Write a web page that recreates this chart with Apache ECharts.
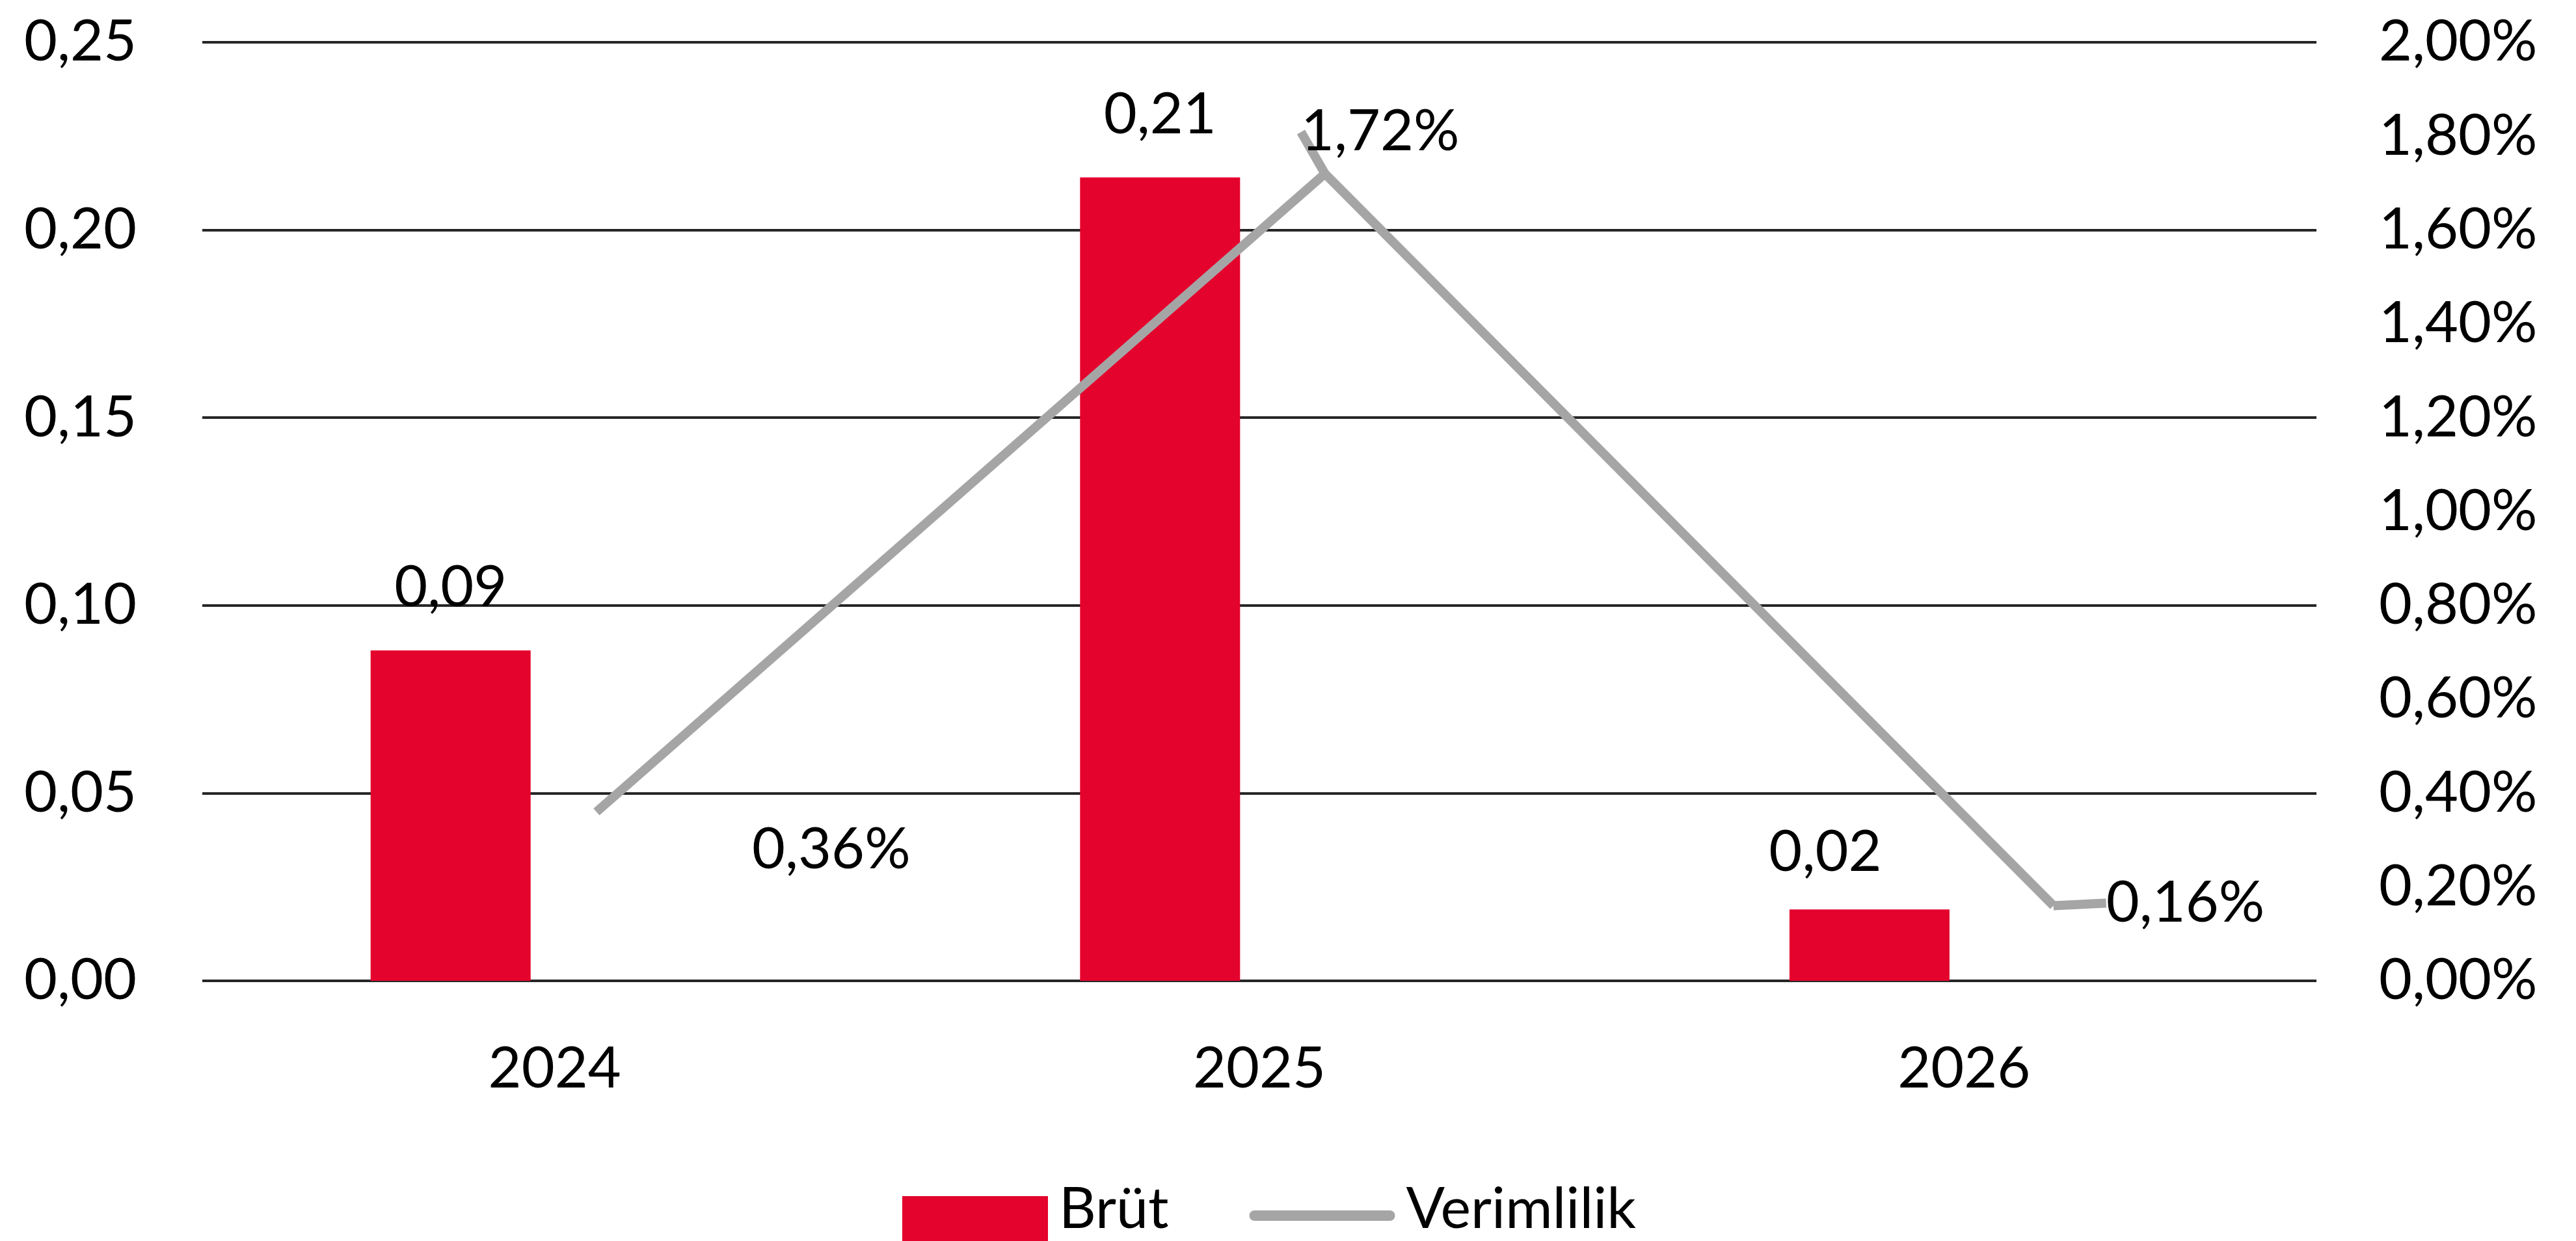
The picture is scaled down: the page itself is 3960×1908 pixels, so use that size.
<!DOCTYPE html>
<html>
<head>
<meta charset="utf-8">
<script src="https://cdn.jsdelivr.net/npm/echarts@6/dist/echarts.min.js"></script>
<style>
  html, body { margin: 0; padding: 0; background: #fff; }
  #chart { width: 3960px; height: 1908px; }
</style>
</head>
<body>
<div id="chart"></div>
<script>
// data
const years = ['2024', '2025', '2026'];
const brut = [0.088, 0.214, 0.019];
const verimlilik = [0.36, 1.72, 0.16]; // in %

// label nudges (px) so the labels sit where the original put them
const lineLabelPos = ['top', 'top', 'right'];
const lineLabelShift = [[361, 107], [85, -15], [76, -4]];

const FONT = 'Lato';
const RED = '#E4032D';
const GREY = '#A5A5A6';

// legend icons drawn in a 224 x 108 box; the lone moves keep the empty part of the box
const ICON_BAR = 'path://M0,0 M0,33 L224,33 L224,108 L0,108 Z';
const ICON_LINE = 'path://M0,0 M224,108 M8,55 L216,55 A8,8 0 0 1 216,71 L8,71 A8,8 0 0 1 8,55 Z';

const comma = (v, d) => v.toFixed(d).replace('.', ',');

const chart = echarts.init(document.getElementById('chart'));

const option = {
  animation: false,
  textStyle: { fontFamily: FONT, fontSize: 88, color: '#000' },
  grid: { left: 311, right: 399, top: 65, bottom: 400 },
  legend: {
    left: 1387,
    top: 1806,
    padding: 0,
    itemWidth: 224,
    itemHeight: 108,
    itemGap: 124,
    formatter: (name) => '{t|' + name + '}',
    textStyle: {
      fontFamily: FONT, fontSize: 88, color: '#000',
      rich: { t: { fontFamily: FONT, fontSize: 88, color: '#000', padding: [0, 0, 0, 12] } },
    },
    data: [
      { name: 'Brüt', icon: ICON_BAR, itemStyle: { color: RED } },
      { name: 'Verimlilik', icon: ICON_LINE, itemStyle: { color: GREY } },
    ],
  },
  xAxis: [
    {
      type: 'category',
      data: years,
      axisLine: { show: false },
      axisTick: { show: false },
      axisLabel: { fontFamily: FONT, fontSize: 88, color: '#000', margin: 92 },
    },
    // hidden axes carrying the marks (the original draws bars left of, and the line right of, the year)
    { type: 'value', show: false, min: -0.35, max: 2.63 },
    { type: 'value', show: false, min: -0.541, max: 2.361 },
  ],
  yAxis: [
    {
      type: 'value',
      min: 0,
      max: 0.25,
      interval: 0.05,
      axisLine: { show: false },
      axisTick: { show: false },
      splitLine: { lineStyle: { color: '#262626', width: 4 } },
      axisLabel: {
        fontFamily: FONT, fontSize: 88, color: '#000', margin: 101,
        formatter: (v) => comma(v, 2),
      },
    },
    {
      type: 'value',
      position: 'right',
      min: 0,
      max: 2,
      interval: 0.2,
      axisLine: { show: false },
      axisTick: { show: false },
      splitLine: { show: false },
      axisLabel: {
        fontFamily: FONT, fontSize: 88, color: '#000', margin: 96,
        formatter: (v) => comma(v, 2) + '%',
      },
    },
  ],
  series: [
    {
      name: 'Brüt',
      type: 'bar',
      xAxisIndex: 1,
      yAxisIndex: 0,
      barWidth: 246,
      itemStyle: { color: RED },
      data: brut.map((v, i) => ({
        value: [i, v],
        label: i === 2 ? { offset: [-68, 8] } : undefined,
      })),
      label: {
        show: true,
        position: 'top',
        distance: 52,
        fontFamily: FONT,
        fontSize: 88,
        color: '#000',
        formatter: (p) => comma(p.value[1], 2),
      },
    },
    {
      name: 'Verimlilik',
      type: 'line',
      xAxisIndex: 2,
      yAxisIndex: 1,
      symbol: 'circle',
      symbolSize: 0,
      itemStyle: { color: GREY },
      lineStyle: { color: GREY, width: 14 },
      data: verimlilik.map((v, i) => ({
        value: [i, v],
        label: { position: lineLabelPos[i] },
        labelLine: { show: i !== 0 },
      })),
      label: {
        show: true,
        position: 'top',
        distance: 5,
        fontFamily: FONT,
        fontSize: 88,
        color: '#000',
        formatter: (p) => comma(p.value[1], 2) + '%',
      },
      labelLine: { show: true, lineStyle: { color: GREY, width: 14 } },
      labelLayout: (p) => ({ dx: lineLabelShift[p.dataIndex][0], dy: lineLabelShift[p.dataIndex][1] }),
    },
  ],
};

chart.setOption(option);
</script>
</body>
</html>
